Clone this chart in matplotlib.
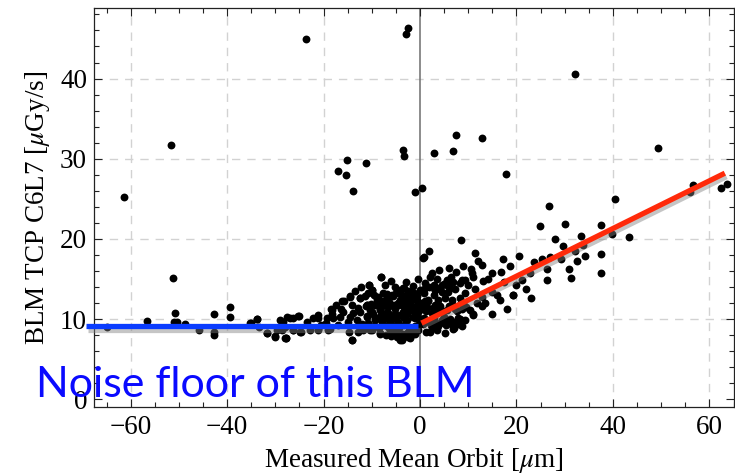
import matplotlib
matplotlib.use("Agg")
import matplotlib.pyplot as plt
import matplotlib.patheffects as pe
from matplotlib.ticker import MultipleLocator

# Measured mean orbit [um] and BLM signal [uGy/s]
orbit_um = [
    # sparse high readings
    -61.4, -51.7, -23.7, -2.4, -3.0, -3.6, -3.3, -15.2, -11.3, -17.1, -15.3, -14.0,
    -1.0, 0.5, 3.0, 6.8, 7.4, 12.9, 17.8, 32.1, 49.3,
    # positive-orbit branch, upper part
    26.8, 24.9, 30.0, 28.0, 33.3, 37.6, 40.4, 39.9, 43.3, 56.0, 56.7, 62.4, 63.6,
    8.5, 29.6, 33.7, 32.1, 32.5, 34.2, 37.6, 30.9, 31.3, 37.6, 29.2,
    # positive-orbit branch, middle
    1.9, 0.9, 11.5, 12.0, 12.8, 17.1, 20.5, 18.7, 16.8, 14.0, 10.6, 10.8, 11.0,
    9.3, 8.3, 5.5, 10.0, 11.4, 7.3, 5.9, 4.5, 3.1, 2.8, 1.7, 3.8, 5.2, 6.6, 8.3,
    9.3, 12.8, 11.8, 13.5, 14.9, 15.9, 16.6, 19.3, 21.1, 22.8, 23.6, 25.3, 27.0,
    26.3, 26.4, 23.1, 18.0, 14.9, 11.0, 7.9, 7.0, 5.9, 4.1, 2.4, 12.8, 10.4, 8.6,
    8.2, 10.9, 6.9, 19.2,
    # positive-orbit branch, near zero
    1.0, 2.0, 3.5, 4.5, 6.5, 0.8, 1.5, 2.5, 3.2, 4.8, 6.0, 7.2, 0.8, 1.8, 3.0,
    5.0, 0.5, 9.0, 6.2, 3.6, 5.1, 8.8, 1.2, 8.6, 5.5, 3.1, 9.3, 6.9, 4.5, 2.1,
    # negative-orbit cluster
    -8.1, -10.5, -9.9, -14.5, -15.8, -12.4, -14.2, -18.5, -15.9, -21.1, -22.1,
    -23.5, -25.0, -26.3, -27.6, -29.0, -27.7, -24.7, -21.1, -19.0, -14.2, -14.8,
    -12.8, -8.3, -4.8, -2.4, -1.4, -3.8, -4.5, -3.3, -2.2, -6.9, -9.0, -11.0,
    -12.4, -11.0, -16.6, -18.0, -19.3, -13.1, -9.3, -6.9, -5.2, -2.8, -1.0, -0.7,
    -1.7, -4.1, -0.4, -6.2, -8.3, -10.4, -14.5, -11.8, -10.4, -6.2, -0.4, 0.7,
    -22.8, -26.3, -28.7,
    -4.8, -3.5, -2.1, -6.9, -9.0, -11.0, 1.0, 1.7, -2.8, -4.5, -6.6, -8.3, -10.0,
    -1.7, -3.5, -5.2, -7.3, -9.3, -1.0, -2.8, -4.5, -6.2, -7.9, -10.7, -1.7, -3.5,
    -4.8, -8.3, -10.0, -5.9, -2.4, -4.1, -0.7, -0.4, -0.4, -1.0, -3.8, -5.9, -7.9,
    0.0,
    -35.2, -33.8, -31.8, -30.0, -27.8, -28.0, -26.3, -24.9, -26.9, -25.2, -21.1,
    -21.1, -18.7, -18.3, -16.2, -14.5, -14.2, -10.5, -8.1, -10.0, -12.4,
    # far negative orbit
    -64.9, -56.6, -51.2, -50.8, -50.4, -48.7, -45.9, -42.8, -42.7, -39.4, -39.5,
    -35.1, -33.8, -33.4, -31.8, -30.1, -29.6, -28.5, -28.0, -42.8, -51.1,
]
blm_signal = [
    25.2, 31.7, 44.9, 46.3, 45.6, 31.1, 30.3, 29.8, 29.5, 28.5, 28.0, 26.0,
    25.8, 26.3, 30.7, 31.0, 32.9, 32.6, 28.1, 40.6, 31.4,
    24.1, 21.6, 21.8, 20.0, 20.4, 21.7, 25.0, 20.6, 20.2, 25.9, 26.7, 26.3, 26.8,
    19.9, 19.1, 19.3, 18.5, 17.3, 17.9, 18.1, 16.2, 15.1, 15.8, 17.5,
    18.5, 17.7, 18.3, 17.3, 16.8, 17.5, 17.9, 16.6, 15.9, 15.0, 16.3, 15.7, 15.3,
    14.9, 14.5, 14.7, 14.3, 13.7, 13.8, 13.4, 13.4, 13.6, 13.0, 12.2, 12.4, 12.6, 12.4, 12.6,
    13.2, 12.8, 12.0, 12.0, 13.4, 13.0, 12.4, 13.0, 14.9, 15.7, 17.1, 17.5, 17.8,
    16.2, 14.9, 12.6, 11.3, 10.7, 10.5, 10.1, 8.9, 9.5, 9.5, 8.9, 11.6, 11.1, 11.3,
    10.0, 10.6, 8.8, 13.0,
    14.5, 15.3, 15.0, 14.2, 15.2, 13.2, 11.5, 10.8, 11.8, 11.0, 11.6, 11.2, 10.2, 9.6, 10.2,
    10.3, 12.0, 12.0, 13.9, 8.6, 8.3, 9.1, 8.4, 14.9, 14.9, 13.6, 9.9, 9.1, 9.7, 8.4,
    15.3, 14.3, 13.6, 12.9, 12.2, 12.6, 11.8, 11.2, 10.9, 10.5, 10.1,
    9.7, 10.4, 10.1, 10.3, 9.9, 7.6, 8.4, 8.6, 8.6, 7.4, 8.4,
    8.4, 8.3, 7.8, 8.4, 8.2, 7.4, 13.6, 13.9, 13.3, 12.6, 12.4, 11.8,
    10.9, 10.3, 10.3, 10.1, 10.1, 9.9, 9.9, 10.9, 11.3, 11.3, 11.3, 12.4,
    12.4, 12.4, 10.3, 10.3, 11.1, 11.1, 10.3, 8.6, 8.7, 8.6, 8.6, 17.6,
    8.6, 8.6, 8.7,
    13.4, 13.9, 13.4, 12.7, 12.6, 11.8, 12.2, 12.4, 12.4, 12.0, 11.5, 11.3, 10.9,
    11.1, 10.9, 10.7, 10.5, 10.1, 10.1, 9.9, 9.7, 9.7, 9.6, 9.5, 8.4, 8.2,
    8.0, 8.2, 8.6, 8.6, 7.8, 7.4, 8.9, 10.9, 12.0, 13.0, 12.8, 13.0, 12.2,
    13.6,
    9.5, 10.0, 8.3, 7.9, 7.6, 9.0, 8.6, 8.4, 10.1, 10.4, 10.1,
    8.8, 8.8, 11.1, 12.2, 12.8, 7.4, 14.3, 15.2, 13.6, 12.6,
    9.0, 9.8, 15.1, 10.8, 9.7, 9.4, 8.6, 8.4, 10.6, 11.5, 10.3,
    9.5, 10.0, 9.0, 8.3, 7.8, 8.7, 9.7, 7.6, 8.0, 9.7,
]

# Densely packed readings around zero orbit
core_orbit_um = [
    -11.5, -10.8, -9.6, -8.8, -7.6, -6.8, -5.6, -4.9, -3.9, -3.1, -2.5, -1.9, -1.2, -0.6,
    -11.2, -10.2, -9.4, -8.6, -7.8, -7.0, -6.4, -5.5, -4.6, -3.6, -2.9, -2.0, -1.3, -0.5,
    -10.9, -9.8, -8.9, -8.0, -7.2, -6.5, -5.7, -5.0, -4.2, -3.3, -2.6, -1.5, -0.8,
    -9.5, -8.5, -7.5, -6.6, -5.4, -4.4, -3.4, -2.3, -1.1, -0.3,
    -7.0, -6.0, -5.0, -4.0, -3.0, -2.0, -1.0,
    -7.2, -5.2, -3.0, -1.5, -0.5, -6.0,
    0.6, 1.4, 2.2, 3.0, 3.8, 4.6, 5.4, 6.2, 7.0, 7.8,
    0.4, 1.2, 2.6, 3.4, 4.2, 5.6, 6.8, 7.6, 8.4, 9.6,
    0.9, 1.9, 2.9, 3.9, 4.9, 5.9, 6.9,
    2.5, 4.0, 6.0, 7.5, 9.0, 13.0, 15.0, 17.5, 20.0, 22.0,
    -19.5, -18.2, -17.0, -16.3, -15.0, -13.8, -12.9, -12.0, -17.5, -20.5, -13.5, -12.2,
]
core_signal = [
    12.9, 13.2, 13.0, 12.8, 13.3, 13.1, 12.9, 13.2, 13.1, 12.9, 13.5, 12.8, 13.3, 12.9,
    11.6, 11.9, 11.7, 12.0, 11.6, 11.9, 12.1, 11.7, 11.8, 11.6, 12.0, 11.7, 11.5, 11.8,
    10.4, 10.6, 10.2, 10.5, 10.1, 10.6, 10.3, 10.0, 10.5, 10.2, 10.6, 10.3, 10.6,
    9.2, 8.9, 9.3, 9.0, 9.2, 8.9, 9.3, 9.0, 9.2, 9.4,
    8.0, 7.9, 8.4, 7.9, 8.1, 7.7, 8.2,
    14.2, 14.0, 14.6, 14.1, 15.0, 14.8,
    9.4, 9.8, 9.3, 9.6, 9.2, 9.9, 9.3, 10.0, 9.7, 9.4,
    11.2, 11.0, 11.4, 11.0, 11.6, 11.1, 11.8, 11.0, 12.0, 11.5,
    13.8, 14.0, 14.3, 13.9, 14.4, 14.1, 14.6,
    15.8, 16.1, 16.4, 15.9, 16.6, 14.8, 15.8, 14.6, 14.3, 13.8,
    9.5, 10.6, 9.3, 11.2, 9.6, 10.8, 11.4, 9.4, 11.8, 9.3, 13.5, 14.0,
]

# Flat noise floor and linear rise for positive orbit
floor_x = [-69.2, -0.4]
floor_y = [9.1, 9.1]
rise_x = [0.3, 63.2]
rise_y = [9.5, 28.2]

x_ticks = [-60, -40, -20, 0, 20, 40, 60]
y_ticks = [0, 10, 20, 30, 40]

plt.rcParams["font.family"] = ["Liberation Serif", "DejaVu Serif"]
plt.rcParams["mathtext.fontset"] = "stix"

fig = plt.figure(figsize=(7.35, 4.76), dpi=100)
ax = fig.add_axes([94 / 735, 1 - 407 / 476, (734 - 94) / 735, (407 - 8) / 476])

ax.set_xlim(-67.6, 65.1)
ax.set_ylim(-0.96, 48.8)

ax.set_xticks(x_ticks)
ax.set_yticks(y_ticks)
ax.xaxis.set_minor_locator(MultipleLocator(5))
ax.yaxis.set_minor_locator(MultipleLocator(2))
ax.set_xticklabels(["\u2212" + str(-v) if v < 0 else str(v) for v in x_ticks])
ax.tick_params(which="both", direction="in", top=True, right=True,
               labelsize=19.5, color="#222222")
ax.tick_params(which="major", length=5.5, width=0.8)
ax.tick_params(which="minor", length=3.5, width=0.8)
ax.tick_params(axis="x", pad=6)
ax.tick_params(axis="y", pad=5)

for side in ax.spines.values():
    side.set_linewidth(0.9)
    side.set_color("#222222")

# Dashed grid on the major ticks, skipping the zero line
for v in x_ticks:
    if v != 0:
        ax.axvline(v, color="#d2d2d2", lw=1.0, ls=(0, (6, 5)), zorder=0)
for v in y_ticks:
    if v != 0:
        ax.axhline(v, color="#d2d2d2", lw=1.0, ls=(0, (6, 5)), zorder=0)
ax.axvline(0, color="#6e6e6e", lw=1.1, zorder=1)

ax.scatter(orbit_um + core_orbit_um, blm_signal + core_signal,
           s=32, c="black", linewidths=0, zorder=3)

shadow = [pe.SimpleLineShadow(offset=(1.2, -2.5), shadow_color="#808080", alpha=0.45),
          pe.Normal()]
ax.plot(floor_x, floor_y, color="#0a3cff", lw=3.8, solid_capstyle="butt",
        clip_on=False, zorder=4, path_effects=shadow)
ax.plot(rise_x, rise_y, color="#ff2a0a", lw=3.8, solid_capstyle="butt",
        zorder=4, path_effects=shadow)

ax.set_xlabel(r"Measured Mean Orbit [$\mu$m]", fontsize=19.5, labelpad=4)
ax.set_ylabel(r"BLM TCP C6L7 [$\mu$Gy/s]", fontsize=19.5, labelpad=6)

fig.text(36 / 735, 1 - 397 / 476, "Noise floor of this BLM", color="#0a0aff",
         fontsize=31, family=["Lato", "DejaVu Sans"], ha="left", va="baseline",
         zorder=10)

fig.savefig("out.png", dpi=100)
